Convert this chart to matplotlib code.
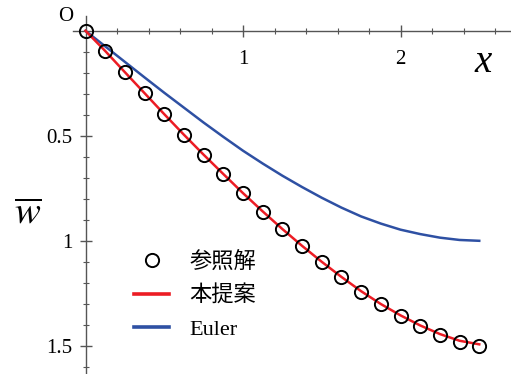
import matplotlib
matplotlib.use("Agg")
import matplotlib.pyplot as plt
import numpy as np

plt.rcParams['mathtext.fontset'] = 'stix'

# reference solution (circles)
x_ref = [0, 0.125, 0.25, 0.375, 0.5, 0.625, 0.75, 0.875, 1.0, 1.125, 1.25,
         1.375, 1.5, 1.625, 1.75, 1.875, 2.0, 2.125, 2.25, 2.375, 2.5]
w_ref = [0, 0.096, 0.198, 0.298, 0.398, 0.496, 0.591, 0.683, 0.774, 0.861, 0.945,
         1.025, 1.101, 1.174, 1.242, 1.303, 1.357, 1.406, 1.448, 1.480, 1.500]

# proposed method
x_prop = x_ref
w_prop = [0, 0.096, 0.197, 0.297, 0.397, 0.495, 0.590, 0.682, 0.773, 0.860, 0.944,
          1.024, 1.100, 1.172, 1.240, 1.301, 1.355, 1.403, 1.444, 1.476, 1.493]

# Euler
x_eul = x_ref
w_eul = [0, 0.074, 0.148, 0.222, 0.295, 0.366, 0.437, 0.505, 0.571, 0.632, 0.690,
         0.744, 0.795, 0.842, 0.884, 0.918, 0.947, 0.968, 0.985, 0.996, 1.0]

labels = ['参照解', '本提案', 'Euler']
xticks = [1, 2]
yticks = [0.5, 1, 1.5]

fig = plt.figure(figsize=(5.11, 3.74), dpi=100)
ax = fig.add_axes([0, 0, 1, 1])
ax.set_xlim(-85.5 / 157.5, (511 - 85.5) / 157.5)
ax.set_ylim((374 - 30.8) / 210, -30.8 / 210)

ax.plot(x_eul, w_eul, color='#2e50a3', lw=1.8, label=labels[2], zorder=2)
ax.plot(x_prop, w_prop, color='#ec1c24', lw=1.8, label=labels[1], zorder=3)
ax.plot(x_ref, w_ref, 'o', mfc='none', mec='black', ms=9.5, mew=1.4,
        label=labels[0], zorder=4)

axc = '#555555'
for s in ['top', 'right']:
    ax.spines[s].set_visible(False)
ax.spines['bottom'].set_position(('data', 0))
ax.spines['left'].set_position(('data', 0))
ax.spines['bottom'].set_bounds(-0.08, 2.72)
ax.spines['left'].set_bounds(-0.07, 1.7)
for s in ['bottom', 'left']:
    ax.spines[s].set_color(axc)
    ax.spines[s].set_linewidth(1.0)

ax.set_xticks(xticks)
ax.set_xticks(np.arange(0.2, 2.7, 0.2), minor=True)
ax.set_yticks(yticks)
ax.set_yticks(np.arange(0.1, 1.65, 0.1), minor=True)
ax.set_xticklabels([str(t) for t in xticks])
ax.set_yticklabels(['0.5', '1', '1.5'])
ax.tick_params(which='major', direction='inout', length=9, width=1.0, color=axc,
               labelsize=15)
ax.tick_params(axis='x', which='major', pad=9)
ax.tick_params(axis='y', which='major', pad=5)
ax.tick_params(which='minor', direction='inout', length=4.5, width=0.8, color=axc)
for lab in ax.get_xticklabels() + ax.get_yticklabels():
    lab.set_family('Liberation Serif')

ax.text(-0.124, -0.07, 'O', ha='center', va='center', fontsize=15,
        family='Liberation Serif')
ax.text(2.524, 0.153, 'x', ha='center', va='center', fontsize=28,
        family='Liberation Serif', style='italic')
ax.text(-0.365, 0.868, r'$\overline{w}$', ha='center', va='center', fontsize=28)

h, l = ax.get_legend_handles_labels()
order = [2, 1, 0]
leg = ax.legend([h[i] for i in order], [l[i] for i in order], frameon=False,
                loc='upper left', bbox_to_anchor=(125 / 511, 1 - 243 / 374),
                prop={'family': ['Liberation Serif', 'Noto Sans CJK JP'], 'size': 16},
                handlelength=1.6, handletextpad=0.9, labelspacing=0.57,
                borderaxespad=0)
for ln in leg.get_lines()[1:]:
    ln.set_linewidth(2.6)

fig.savefig('out.png', dpi=100)
